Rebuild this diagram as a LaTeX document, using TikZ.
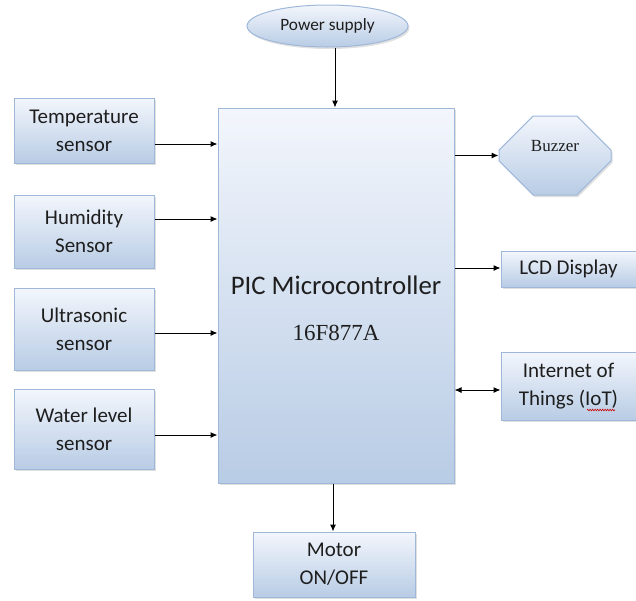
\documentclass[tikz,border=0pt]{standalone}
\usepackage{fontspec}
\setmainfont{Carlito}
\newfontfamily\tms{Liberation Serif}
\usetikzlibrary{arrows.meta,shapes.geometric,shapes.misc,shadows,decorations.pathmorphing}
\definecolor{bordc}{HTML}{9FB8D9}
\definecolor{topc}{HTML}{F3F6FC}
\definecolor{botc}{HTML}{B8CCE5}
\definecolor{txtc}{HTML}{1E1E1E}
\tikzset{
  blk/.style={draw=bordc, line width=1pt, top color=topc, bottom color=botc,
    drop shadow={shadow xshift=1.5pt, shadow yshift=-2pt, fill=black!35, opacity=0.35},
    align=center, inner sep=0pt, text=txtc,
    font=\fontsize{21}{28}\selectfont},
  arr/.style={line width=1pt, -{Latex[length=7pt,width=6pt]}},
  darr/.style={line width=1pt, {Latex[length=7pt,width=6pt]}-{Latex[length=7pt,width=6pt]}},
}
\begin{document}
\begin{tikzpicture}[x=1pt,y=-1pt]
\useasboundingbox (0,0) rectangle (636,600);
% main
\node[blk, minimum width=236pt, minimum height=375pt] (main) at (336,295.5) {};
\node[text=txtc, font=\fontsize{26.8}{30}\selectfont] (mt1) at (336,285) {PIC Microcontroller};
\node[text=txtc, font=\tms\fontsize{23}{27}\selectfont] (mt2) at (336,333) {16F877A};
% power
\node[blk, ellipse, minimum width=161pt, minimum height=42pt, font=\fontsize{17.3}{20}\selectfont] (pow) at (327.5,26) {Power supply};
% left
\node[blk, minimum width=140pt, minimum height=65pt] (temp) at (84,130.5) {Temperature\\sensor};
\node[blk, minimum width=140pt, minimum height=73pt] (hum) at (84,231.5) {Humidity\\Sensor};
\node[blk, minimum width=140pt, minimum height=82pt] (ultra) at (84,329) {Ultrasonic\\sensor};
\node[blk, minimum width=140pt, minimum height=80pt] (water) at (84,429) {Water level\\sensor};
% right
\node[blk, chamfered rectangle, chamfered rectangle xsep=23pt, chamfered rectangle ysep=19pt,
  minimum width=112pt, minimum height=79pt, font=\tms\fontsize{17}{20}\selectfont, text depth=0pt] (buzz) at (555,155.5) {\raisebox{19pt}{Buzzer}};
\node[blk, minimum width=135pt, minimum height=36pt] (lcd) at (568.5,269) {LCD Display};
\node[blk, minimum width=135pt, minimum height=68pt] (iot) at (568.5,386) {Internet of\\Things (IoT)};
% bottom
\node[blk, minimum width=162pt, minimum height=65pt] (motor) at (334,564.5) {Motor\\ON/OFF};
% spell squiggle
\draw[red!80!black, line width=0.6pt, decorate, decoration={zigzag, amplitude=0.8pt, segment length=2.5pt}] (587,410) -- (615,410);
% connectors
\draw[arr] ([xshift=7.5pt]pow.south) coordinate (p1) -- (p1 |- main.north);
\draw[arr] ([yshift=-13.5pt]temp.east) coordinate (t1) -- (t1 -| main.west);
\draw[arr] ([yshift=12.5pt]hum.east) coordinate (h1) -- (h1 -| main.west);
\draw[arr] ([yshift=-4pt]ultra.east) coordinate (u1) -- (u1 -| main.west);
\draw[arr] ([yshift=-6pt]water.east) coordinate (w1) -- (w1 -| main.west);
\draw[arr] (buzz.west -| main.east) -- (buzz.west);
\draw[arr] ([yshift=1pt]lcd.west -| main.east) -- ([yshift=1pt]lcd.west);
\draw[darr] ([yshift=-4pt]iot.west -| main.east) -- ([yshift=-4pt]iot.west);
\draw[arr] ([xshift=-3pt]main.south) coordinate (m1) -- (m1 |- motor.north);
\end{tikzpicture}
\end{document}
